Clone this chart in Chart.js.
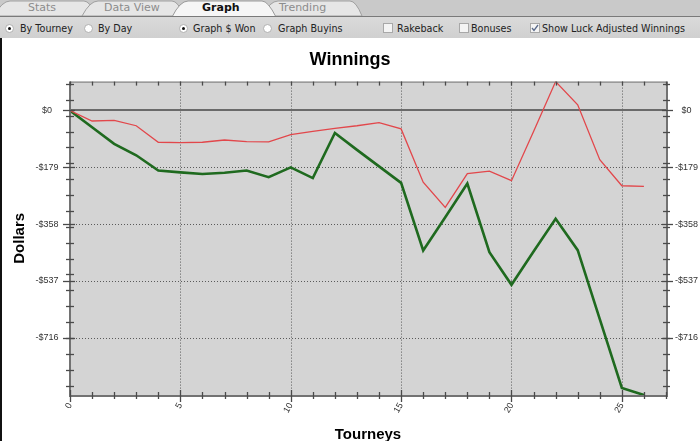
<!DOCTYPE html>
<html>
<head>
<meta charset="utf-8">
<script src="https://cdn.jsdelivr.net/npm/chart.js@4.4.1/dist/chart.umd.min.js"></script>
<style>
  html, body { margin:0; padding:0; }
  body { width:700px; height:441px; overflow:hidden; position:relative; background:#fff; font-family:"DejaVu Sans", sans-serif; }
  #tabbar { position:absolute; left:0; top:0; width:700px; height:16px; background:#c9c9c9; }
  #tabbar svg { position:absolute; left:0; top:0; }
  .tab { position:absolute; top:1px; font-size:11px; color:#8c8c8c; line-height:14px; }
  .tab.active { color:#111; font-weight:bold; }
  #toolbar { position:absolute; left:0; top:16px; width:700px; height:22px; background:linear-gradient(#dadada,#d0d0d0); border-top:1px solid #7a7a7a; box-sizing:border-box; }
  .lbl { position:absolute; top:22px; font-size:9.6px; color:#222; line-height:14px; white-space:nowrap; }
  .radio { position:absolute; top:24px; width:9px; height:9px; border-radius:50%; background:#fff; border:1px solid #b0b0b0; box-sizing:border-box; }
  .radio.on::after { content:""; position:absolute; left:2px; top:2px; width:3px; height:3px; border-radius:50%; background:#111; }
  .cbox { position:absolute; top:23px; width:10px; height:10px; background:#f4f4f4; border:1px solid #a8a8a8; box-sizing:border-box; }
  #panel { position:absolute; left:0; top:38px; width:700px; height:403px; border-left:2px solid #111; box-sizing:border-box; }
  #chart { position:absolute; left:0; top:38px; }
</style>
</head>
<body>
<div id="tabbar">
  <svg width="700" height="16">
    <path d="M-6,16 Q2,1 10,1 L84,1 Q90,1 96,16 Z" fill="#e6e6e6" stroke="#a0a0a0" stroke-width="1"/>
    <path d="M82,16 Q90,1 98,1 L172,1 Q178,1 184,16 Z" fill="#e6e6e6" stroke="#a0a0a0" stroke-width="1"/>
    <path d="M262,16 Q270,1 278,1 L350,1 Q356,1 362,16 Z" fill="#e6e6e6" stroke="#a0a0a0" stroke-width="1"/>
    <path d="M172,17 Q180,1 188,1 L262,1 Q268,1 276,17 Z" fill="#f6f6f6" stroke="#9a9a9a" stroke-width="1"/>
  </svg>
  <span class="tab" style="left:28px">Stats</span>
  <span class="tab" style="left:104px">Data View</span>
  <span class="tab active" style="left:202px">Graph</span>
  <span class="tab" style="left:279px">Trending</span>
</div>
<div id="toolbar"></div>
<span class="radio on" style="left:5px"></span><span class="lbl" style="left:20px">By Tourney</span>
<span class="radio" style="left:84px"></span><span class="lbl" style="left:98px">By Day</span>
<span class="radio on" style="left:179px"></span><span class="lbl" style="left:193px">Graph $ Won</span>
<span class="radio" style="left:263px"></span><span class="lbl" style="left:278px">Graph Buyins</span>
<span class="cbox" style="left:383px"></span><span class="lbl" style="left:397px">Rakeback</span>
<span class="cbox" style="left:459px"></span><span class="lbl" style="left:471px">Bonuses</span>
<span class="cbox" style="left:530px"><svg width="8" height="8" style="position:absolute;left:0;top:0"><polyline points="1,4 3,6.5 7,1" fill="none" stroke="#5a6a8a" stroke-width="1.3"/></svg></span><span class="lbl" style="left:542px">Show Luck Adjusted Winnings</span>
<div id="panel"></div>
<canvas id="chart" width="700" height="420"></canvas>
<script>
// ---- data ----
const tourneys = [0,1,2,3,4,5,6,7,8,9,10,11,12,13,14,15,16,17,18,19,20,21,22,23,24,25,26];
const actualWinnings = [0,-53,-105,-141,-189,-195,-200,-196,-189,-210,-179,-213,-71,-124,-176,-228,-441,-336,-230,-446,-549,-444,-341,-440,-657,-874,-896];
const luckAdjusted = [0,-33,-31,-48,-100,-101,-100,-93,-98,-99,-76,-66,-56,-48,-38,-58,-226,-305,-199,-191,-221,-66,91,18,-155,-237,-239];
const yTickValues = [0,-179,-358,-537,-716];
const yTickLabels = ['$0','-$179','-$358','-$537','-$716'];
const xTickValues = [0,5,10,15,20,25];
const xTickLabels = ['0','5','10','15','20','25'];

const Y_MIN = -896, Y_MAX = 91, X_MIN = 0, X_MAX = 27;
const FONT = 'Liberation Sans, Arial, sans-serif';

const framePlugin = {
  id: 'frame',
  beforeDatasetsDraw(chart) {
    const {ctx, chartArea: a, scales: {x, y}} = chart;
    ctx.save();
    ctx.fillStyle = '#d4d4d4';
    ctx.fillRect(a.left, a.top, a.right - a.left, a.bottom - a.top);
    ctx.strokeStyle = '#5a5a5a';
    ctx.lineWidth = 1;
    ctx.setLineDash([1, 2]);
    yTickValues.forEach(v => {
      if (v === 0) return;
      const py = Math.round(y.getPixelForValue(v)) + 0.5;
      ctx.beginPath(); ctx.moveTo(a.left, py); ctx.lineTo(a.right, py); ctx.stroke();
    });
    xTickValues.forEach(v => {
      if (v === 0) return;
      const px = Math.round(x.getPixelForValue(v)) + 0.5;
      ctx.beginPath(); ctx.moveTo(px, a.top); ctx.lineTo(px, a.bottom); ctx.stroke();
    });
    ctx.setLineDash([]);
    ctx.strokeStyle = '#6a6a6a';
    ctx.lineWidth = 2;
    const z = Math.round(y.getPixelForValue(0));
    ctx.beginPath(); ctx.moveTo(a.left, z); ctx.lineTo(a.right, z); ctx.stroke();
    ctx.restore();
  },
  afterDatasetsDraw(chart) {
    const {ctx, chartArea: a, scales: {x, y}} = chart;
    ctx.save();
    ctx.strokeStyle = '#727272';
    ctx.lineWidth = 1;
    ctx.beginPath(); ctx.moveTo(a.left, a.top + 0.5); ctx.lineTo(a.right, a.top + 0.5); ctx.stroke();
    ctx.lineWidth = 2;
    ctx.beginPath();
    ctx.moveTo(a.left, a.top); ctx.lineTo(a.left, a.bottom + 1);
    ctx.lineTo(a.right + 1, a.bottom + 1); ctx.lineTo(a.right + 1, a.top);
    ctx.stroke();
    ctx.strokeStyle = '#4a4a4a';
    ctx.lineWidth = 1.3;
    const seg = (x1, y1, x2, y2) => { ctx.beginPath(); ctx.moveTo(x1, y1); ctx.lineTo(x2, y2); ctx.stroke(); };
    // y minor ticks (every $50)
    for (let v = -866.4; v <= Y_MAX; v += 50) {
      const py = Math.round(y.getPixelForValue(v)) + 0.5;
      seg(a.left - 4, py, a.left + 4, py);
      seg(a.right - 3, py, a.right + 4, py);
    }
    yTickValues.forEach(v => {
      const py = Math.round(y.getPixelForValue(v)) + 0.5;
      seg(a.left - 7, py, a.left + 5, py);
      seg(a.right - 4, py, a.right + 7, py);
    });
    for (let v = X_MIN; v <= X_MAX; v++) {
      const px = Math.round(x.getPixelForValue(v)) + 0.5;
      const major = xTickValues.includes(v);
      seg(px, a.bottom - (major ? 5 : 3), px, a.bottom + (major ? 7 : 4));
      seg(px, a.top, px, a.top + 4);
    }
    ctx.restore();
  }
};

const yTickCallback = (value) => {
  const i = yTickValues.indexOf(value);
  return i >= 0 ? yTickLabels[i] : '';
};

new Chart(document.getElementById('chart'), {
  type: 'line',
  data: {
    datasets: [
      {
        label: 'Luck Adjusted Winnings',
        data: tourneys.map((t, i) => ({x: t, y: luckAdjusted[i]})),
        borderColor: '#e2474b',
        borderWidth: 1.3,
        pointRadius: 0,
        tension: 0,
        fill: false
      },
      {
        label: 'Winnings',
        data: tourneys.map((t, i) => ({x: t, y: actualWinnings[i]})),
        borderColor: '#1f6a1f',
        borderWidth: 2.6,
        pointRadius: 0,
        tension: 0,
        fill: false
      }
    ]
  },
  options: {
    responsive: false,
    animation: false,
    devicePixelRatio: 1,
    layout: { padding: 0 },
    plugins: {
      legend: { display: false },
      tooltip: { enabled: false },
      title: {
        display: true,
        text: 'Winnings',
        color: '#000',
        font: { family: FONT, size: 18, weight: 'bold' },
        padding: { top: 11, bottom: 11 }
      }
    },
    scales: {
      x: {
        type: 'linear',
        position: 'bottom',
        min: X_MIN,
        max: X_MAX,
        afterBuildTicks: s => { s.ticks = xTickValues.map(v => ({value: v})); },
        afterFit: s => { s.height = 63; },
        grid: { display: false, drawTicks: false },
        border: { display: false },
        ticks: {
          autoSkip: false,
          minRotation: 60,
          maxRotation: 60,
          padding: 6,
          color: '#333',
          font: { family: FONT, size: 9 },
          callback: (v) => { const i = xTickValues.indexOf(v); return i >= 0 ? xTickLabels[i] : ''; }
        },
        title: {
          display: true,
          text: 'Tourneys',
          color: '#000',
          font: { family: FONT, size: 15, weight: 'bold' },
          padding: { top: 0, bottom: 14 }
        }
      },
      y: {
        type: 'linear',
        position: 'left',
        min: Y_MIN,
        max: Y_MAX,
        afterBuildTicks: s => { s.ticks = yTickValues.map(v => ({value: v})); },
        afterFit: s => { s.width = 70; },
        grid: { display: false, drawTicks: false },
        border: { display: false },
        ticks: {
          crossAlign: 'center',
          padding: 11.5,
          color: '#333',
          font: { family: FONT, size: 9 },
          callback: yTickCallback
        },
        title: {
          display: true,
          text: 'Dollars',
          color: '#000',
          font: { family: FONT, size: 15, weight: 'bold' },
          padding: { top: 11, bottom: 0 }
        }
      },
      y2: {
        type: 'linear',
        position: 'right',
        min: Y_MIN,
        max: Y_MAX,
        afterBuildTicks: s => { s.ticks = yTickValues.map(v => ({value: v})); },
        afterFit: s => { s.width = 34; },
        grid: { display: false, drawTicks: false },
        border: { display: false },
        ticks: {
          crossAlign: 'center',
          padding: 9,
          color: '#333',
          font: { family: FONT, size: 9 },
          callback: yTickCallback
        }
      }
    }
  },
  plugins: [framePlugin]
});
</script>
</body>
</html>
